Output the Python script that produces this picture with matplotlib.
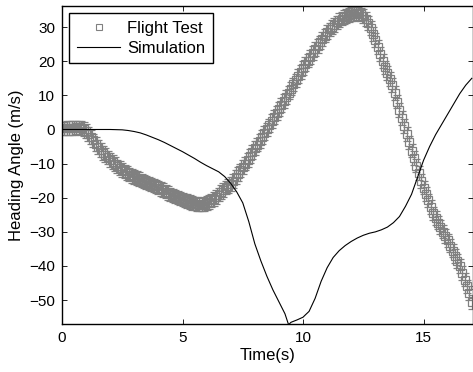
import numpy as np
import matplotlib
matplotlib.use("Agg")
import matplotlib.pyplot as plt
from matplotlib.lines import Line2D

plt.rcParams['font.family'] = ['Liberation Sans', 'DejaVu Sans']

# flight test, sampled every 0.1 s from 0 to 17 s
flight_time = np.linspace(0, 17, 171)
flight_heading = [
    0.3, 0.3, 0.4, 0.4, 0.5, 0.5, 0.6, 0.6, 0.5, 0.2,
    -0.5, -1.3, -2.2, -3.2, -4.2, -5.1, -6.0, -6.8, -7.5, -8.2,
    -9.0, -9.6, -10.2, -10.8, -11.3, -11.8, -12.3, -12.8, -13.2, -13.6,
    -14.0, -14.3, -14.6, -14.9, -15.2, -15.5, -15.8, -16.1, -16.4, -16.7,
    -17.0, -17.4, -17.8, -18.2, -18.6, -19.0, -19.3, -19.6, -19.9, -20.2,
    -20.5, -20.8, -21.0, -21.3, -21.5, -21.7, -21.9, -22.0, -22.0, -21.8,
    -21.5, -21.2, -20.8, -20.3, -19.7, -19.1, -18.4, -17.7, -17.0, -16.5,
    -16.0, -15.0, -14.0, -13.0, -12.0, -11.0, -10.0, -8.9, -7.8, -6.6,
    -5.5, -4.4, -3.3, -2.2, -1.1, 0.0, 1.2, 2.4, 3.6, 4.8,
    6.0, 7.2, 8.4, 9.6, 10.8, 12.0, 13.2, 14.4, 15.6, 16.8,
    18.0, 19.1, 20.2, 21.3, 22.4, 23.5, 24.5, 25.5, 26.5, 27.5,
    28.5, 29.3, 30.0, 30.7, 31.4, 32.0, 32.5, 33.0, 33.3, 33.6,
    33.8, 33.9, 34.0, 34.0, 33.7, 33.2, 32.3, 31.2, 29.8, 28.0,
    26.2, 24.2, 22.1, 20.0, 18.2, 16.5, 14.8, 13.0, 10.6, 8.2,
    5.8, 3.4, 1.0, -1.4, -3.8, -6.2, -8.4, -10.6, -12.8, -15.0,
    -17.0, -18.9, -20.8, -22.7, -24.6, -26.0, -27.3, -28.6, -29.9, -31.2,
    -32.5, -34.0, -35.5, -37.0, -38.5, -40.0, -42.0, -44.0, -46.0, -48.0,
    -50.5,
]
flight_err = 2.0

# simulation
sim_time = [0, 0.5, 1, 1.5, 2, 2.5, 2.75, 3, 3.25, 3.5, 3.75, 4, 4.25, 4.5,
            4.75, 5, 5.25, 5.5, 5.75, 6, 6.25, 6.5, 6.75, 7, 7.25, 7.5, 7.75,
            8, 8.25, 8.5, 8.75, 9, 9.25, 9.4, 9.5, 9.75, 10, 10.1, 10.25,
            10.5, 10.75, 11, 11.25, 11.5, 11.75, 12, 12.25, 12.5, 12.75, 13,
            13.25, 13.5, 13.75, 14, 14.25, 14.5, 14.75, 15, 15.25, 15.5,
            15.75, 16, 16.25, 16.5, 16.75, 17]
sim_heading = [0, 0, 0, 0, 0, -0.1, -0.3, -0.6, -1.0, -1.6, -2.3, -3.0, -3.8,
               -4.7, -5.6, -6.5, -7.5, -8.5, -9.6, -10.6, -11.5, -12.4, -13.8,
               -15.8, -18.3, -21.5, -27.0, -33.5, -38.5, -43.0, -47.0, -50.5,
               -54.0, -57.2, -56.5, -55.8, -55.0, -54.3, -53.3, -49.5, -44.5,
               -40.5, -37.5, -35.5, -34.0, -32.8, -31.8, -31.0, -30.4, -30.0,
               -29.4, -28.6, -27.3, -25.5, -22.5, -19.0, -14.0, -9.0, -5.0,
               -1.5, 1.5, 4.5, 7.5, 10.5, 13.0, 15.0]

fig = plt.figure(figsize=(4.73, 3.72), dpi=100)
ax = fig.add_axes([0.131, 0.129, 0.869, 0.855])

gray = '0.5'
ax.errorbar(flight_time, flight_heading, yerr=flight_err, fmt='none',
            ecolor=gray, elinewidth=0.9, capsize=3.2, capthick=0.9)
ax.plot(flight_time, flight_heading, 's', mfc='none', mec=gray, ms=5.5,
        mew=0.9)
ax.plot(sim_time, sim_heading, color='black', lw=0.8)

ax.set_xlim(0, 17.05)
ax.set_ylim(-57.0, 36.2)
ax.set_xticks([0, 5, 10, 15])
ax.set_yticks([-50, -40, -30, -20, -10, 0, 10, 20, 30])
ax.tick_params(direction='in', top=True, right=True, length=3.5,
               labelsize=11, width=0.6, pad=5)
for s in ax.spines.values():
    s.set_linewidth(1.0)

ax.set_xlabel('Time(s)', fontsize=12, labelpad=2)
ax.set_ylabel('Heading Angle (m/s)', fontsize=12, labelpad=4)

handles = [Line2D([], [], ls='none', marker='s', mfc='none', mec=gray,
                  ms=4.5, mew=0.8),
           Line2D([], [], color='black', lw=0.8)]
ax.legend(handles, ['Flight Test', 'Simulation'], loc='upper left',
          fontsize=12, fancybox=False, edgecolor='black', framealpha=1,
          borderpad=0.45, labelspacing=0.3, handlelength=2.6,
          handletextpad=0.4, borderaxespad=0.45)

fig.savefig('out.png', dpi=100)
